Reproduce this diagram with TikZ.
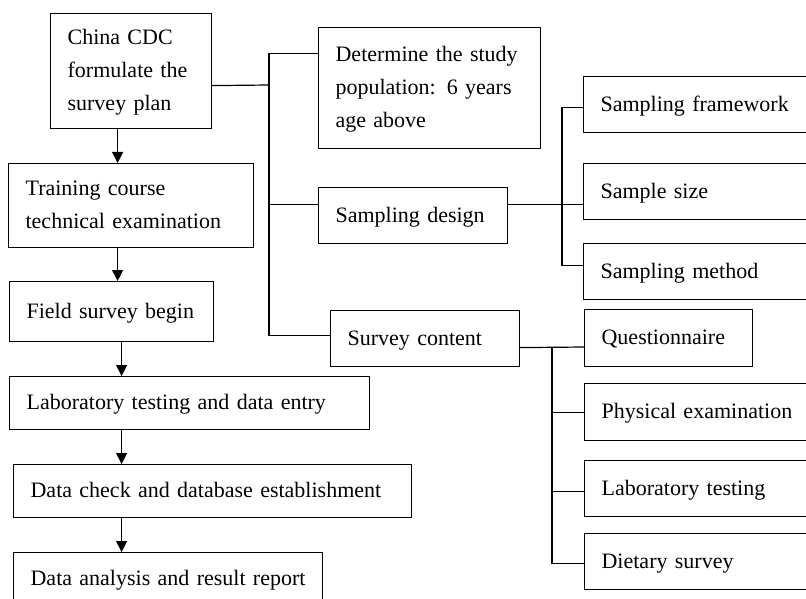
\documentclass[tikz,border=0pt]{standalone}
\usepackage{fontspec}
\setmainfont{Liberation Serif}
\usetikzlibrary{arrows.meta}
\tikzset {>={Triangle[length=11pt,width=11pt]}}
\tikzset{
  box/.style={draw, line width=1.2pt, anchor=north west, inner xsep=17pt, inner ysep=0pt,
    align=left, font=\fontsize{22}{33}\selectfont,
    execute at begin node=\strut, execute at end node=\strut},
  link/.style={line width=1.2pt},
  flow/.style={->, line width=1.2pt}
}

\begin{document}
\begin{tikzpicture}[x=1pt,y=-1pt]
\useasboundingbox (0,0) rectangle (806,599);
\clip (0,0) rectangle (806,599);

\node[box, text width=127pt, minimum height=115pt] (plan) at (50,13) {China CDC\\formulate the\\survey plan};
\node[box, text width=211pt, minimum height=84pt] (train) at (8,163) {Training course\\technical examination};
\node[box, text width=170pt, minimum height=60pt] (field) at (9,281) {Field survey begin};
\node[box, text width=326pt, minimum height=53pt] (entry) at (9,376) {Laboratory testing and data entry};
\node[box, text width=364pt, minimum height=53pt] (check) at (13,464) {Data check and database establishment};
\node[box, text width=275pt, minimum height=52pt] (report) at (13,552) {Data analysis and result report};

\node[box, text width=188pt, minimum height=121pt] (pop) at (318,27)
  {\makebox[188pt][s]{Determine the study}\\\makebox[188pt][s]{population: 6 years}\\age above};
\node[box, text width=155pt, minimum height=56pt] (design) at (318,187) {Sampling design};
\node[box, text width=155pt, minimum height=56pt] (content) at (330,310) {Survey content};

\node[box, text width=203pt, minimum height=56pt] (frame) at (583,76) {Sampling framework};
\node[box, text width=203pt, minimum height=56pt] (size) at (583,163) {Sample size};
\node[box, text width=203pt, minimum height=56pt] (method) at (583,243) {Sampling method};

\node[box, text width=134pt, minimum height=57pt] (quest) at (584,309) {Questionnaire};
\node[box, text width=202pt, minimum height=57pt] (phys) at (584,383) {Physical examination};
\node[box, text width=202pt, minimum height=56pt] (lab) at (584,460) {Laboratory testing};
\node[box, text width=202pt, minimum height=56pt] (diet) at (584,533) {Dietary survey};

\draw[flow] ([xshift=-13.5pt]plan.south) -- ([xshift=-13.5pt]train.north);
\draw[flow] ([xshift=-13.5pt]train.south) -- ([xshift=6pt]field.north);
\draw[flow] ([xshift=10pt]field.south) -- ([xshift=-68pt]entry.north);
\draw[flow] ([xshift=-68pt]entry.south) -- ([xshift=-91pt]check.north);
\draw[flow] ([xshift=-91pt]check.south) -- ([xshift=-46.5pt]report.north);

\coordinate (hub) at (269,85);
\draw[link] ([yshift=-14.5pt]plan.east) -- (hub);
\draw[link] ([yshift=34.5pt]pop.west) -| (hub) |- ([yshift=3pt]content.west);
\draw[link] (hub) |- ([yshift=11pt]design.west);

\coordinate (shub) at (562,204);
\draw[link] ([yshift=11pt]design.east) -- ([yshift=-13pt]size.west);
\draw[link] ([yshift=-3pt]frame.west) -| (shub) |- ([yshift=6pt]method.west);

\coordinate (chub) at (552,347);
\draw[link] ([yshift=-9pt]content.east) -- (chub -| quest.west);
\draw[link] (chub) |- (phys.west);
\draw[link] (chub) |- ([yshift=-3pt]lab.west);
\draw[link] (chub) |- ([yshift=-2pt]diet.west);
\end{tikzpicture}
\end{document}
